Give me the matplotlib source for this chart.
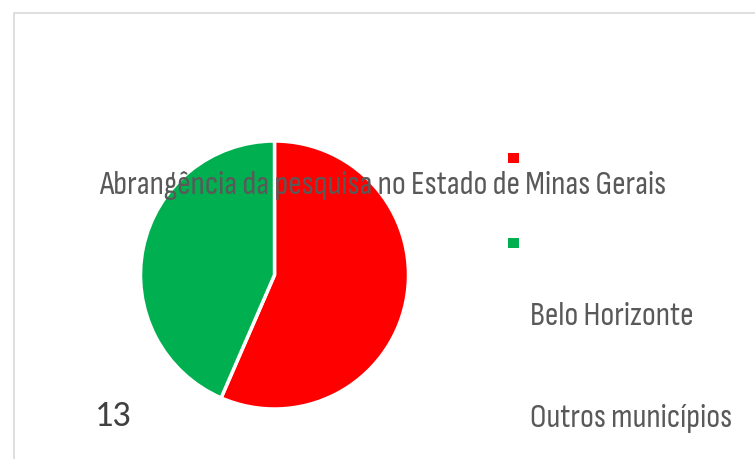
import matplotlib
matplotlib.use("Agg")
import matplotlib.pyplot as plt
from matplotlib.patches import Rectangle

# data
categories = ["Belo Horizonte", "Outros municípios"]
counts = [13, 10]
colors = ["#FF0000", "#00B050"]
title = "Abrangência da pesquisa no Estado de Minas Gerais"

plt.rcParams['font.family'] = ['Sofia Sans Condensed', 'DejaVu Sans']

W, H = 755, 459
fig = plt.figure(figsize=(W / 100, H / 100), dpi=100)

def px(x, y):
    # pixel coords from top-left -> figure fraction
    return x / W, 1 - y / H

# chart area border (right and bottom edges run off the picture)
fig.patches.append(Rectangle(px(14, 470), 1.0, (470 - 13) / H,
                             transform=fig.transFigure, fill=False,
                             edgecolor="#D9D9D9", linewidth=1.2))

# pie: centre ~(274.5, 275), radius ~134 px
ax = fig.add_axes([(274.5 - 134) / W, (H - 409) / H, 268 / W, 268 / H])
ax.pie(counts, colors=colors, startangle=90, counterclock=False,
       wedgeprops=dict(edgecolor="white", linewidth=2.5))
ax.set_xlim(-1, 1)
ax.set_ylim(-1, 1)
ax.set_aspect("equal")
ax.axis("off")

# single data label, sitting at lower left
fig.text(*px(113, 426), str(counts[0]), fontsize=26, color="#404040",
         ha="center", va="baseline", family=["Carlito", "DejaVu Sans"])

# title, overlapping the pie
fig.text(*px(383, 194), title, fontsize=24, color="#595959",
         ha="center", va="baseline")

# legend markers
for c, y in zip(colors, [158, 243]):
    fig.patches.append(Rectangle(px(508, y + 5), 11 / W, 10 / H,
                                 transform=fig.transFigure, facecolor=c,
                                 edgecolor="none"))
# legend labels, displaced below the markers
for lab, y in zip(categories, [325, 427]):
    fig.text(*px(530, y), lab, fontsize=24, color="#595959",
             ha="left", va="baseline")

fig.savefig("out.png", dpi=100)
